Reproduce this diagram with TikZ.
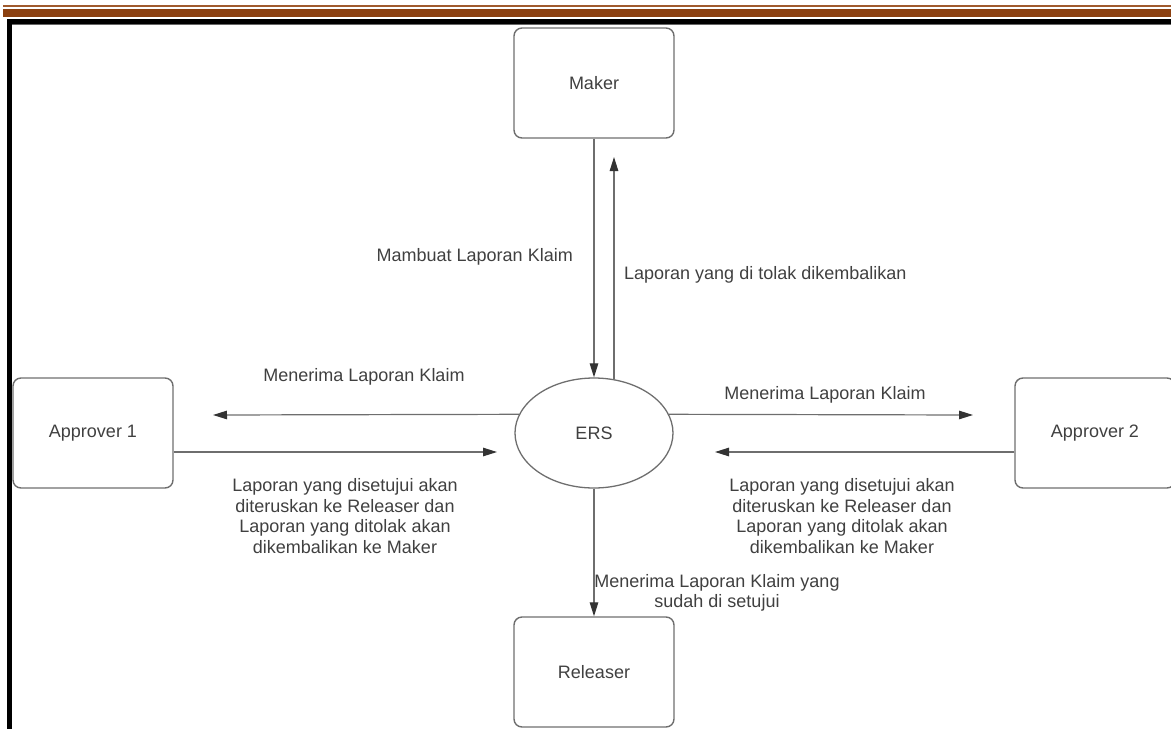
\documentclass[tikz,border=0pt]{standalone}
\usepackage{fontspec}
\setmainfont{Liberation Sans}
\usetikzlibrary{arrows.meta,shapes.geometric}
\definecolor{txt}{HTML}{404040}
\definecolor{ln}{HTML}{6E6E6E}
\definecolor{brown1}{RGB}{139,64,16}
\definecolor{brown2}{RGB}{160,90,45}
\tikzset{
  box/.style={draw=ln, line width=1.4pt, rounded corners=8pt, minimum width=160pt, minimum height=110pt, text=txt, font=\fontsize{18}{20.5}\selectfont},
  ers/.style={draw=ln, line width=1.3pt, ellipse, minimum width=158pt, minimum height=110pt, inner sep=0pt, text=txt, font=\fontsize{18}{20.5}\selectfont},
  lbl/.style={text=txt, font=\fontsize{18}{20.5}\selectfont, inner sep=0pt, align=center},
  arr/.style={draw=ln, line width=1.2pt, -{Triangle[length=14pt,width=8.5pt,fill=black!80,color=black!80]}},
  con/.style={draw=ln, line width=1.2pt}
}
\begin{document}
\begin{tikzpicture}[x=1pt,y=-1pt]
\useasboundingbox (0,0) rectangle (1171,729);
\clip (0,0) rectangle (1171,729);
% header rules
\fill[brown2] (3,5) rectangle (1171,7);
\fill[brown1] (3,9) rectangle (1171,17);
% frame
\fill[black] (7,19) rectangle (1171,24);
\fill[black!60] (12,24) rectangle (1171,25);
\fill[black] (7,19) rectangle (12,729);
% nodes
\node[box] (maker) at (594,83) {Maker};
\node[box] (a1) at (93,433) {Approver 1};
\node[box] (a2) at (1095,433) {Approver 2};
\node[box] (rel) at (594,672) {Releaser};
\node[ers] (ers) at (594,433) {ERS};
% free ends
\coordinate (upend) at (614,157);
\coordinate (l1) at (213,415);
\coordinate (r1) at (973,415);
\coordinate (l2) at (497,452);
\coordinate (r2) at (715,452);
% connectors
\draw[arr] (maker.south) -- (ers.north);
\draw[arr] (upend |- ers.north) ++(0,2) -- (upend);
\draw[arr] (ers.166) -- (l1);
\draw[arr] (ers.14) -- (r1);
\draw[arr] ([yshift=-19pt]a1.east) -- (l2);
\draw[arr] ([yshift=-19pt]a2.west) -- (r2);
\draw[arr] (ers.south) -- (rel.north);
% labels
\node[lbl, anchor=east] (t1) at (573,257) {Mambuat Laporan Klaim};
\node[lbl, anchor=west] (t2) at (624,275) {Laporan yang di tolak dikembalikan};
\node[lbl] (t3) at (364,377) {Menerima Laporan Klaim};
\node[lbl] (t4) at (825,395) {Menerima Laporan Klaim};
\node[lbl] (t5) at (345,516) {Laporan yang disetujui akan\\diteruskan ke Releaser dan\\Laporan yang ditolak akan\\dikembalikan ke Maker};
\node[lbl] (t6) at (842,516) {Laporan yang disetujui akan\\diteruskan ke Releaser dan\\Laporan yang ditolak akan\\dikembalikan ke Maker};
\node[lbl] (t7) at (717,593) {Menerima Laporan Klaim yang\\sudah di setujui};
\end{tikzpicture}
\end{document}
